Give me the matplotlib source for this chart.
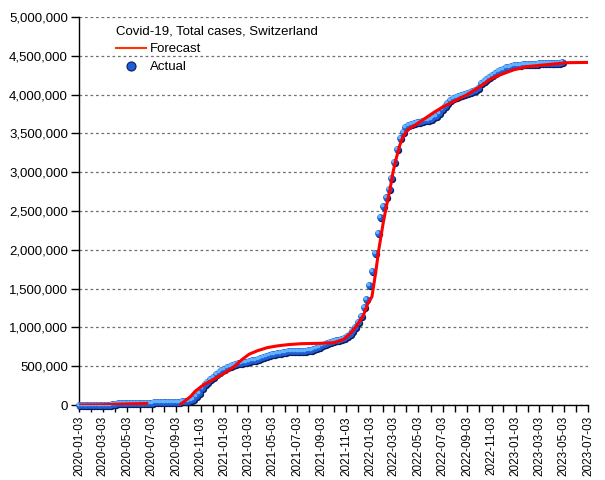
import matplotlib
matplotlib.use("Agg")
import matplotlib.pyplot as plt
import matplotlib.dates as mdates
import matplotlib.transforms as mtransforms
from matplotlib.lines import Line2D
from matplotlib.ticker import FuncFormatter, MultipleLocator
import pandas as pd

plt.rcParams['font.family'] = ['Liberation Sans', 'DejaVu Sans']

# weekly actual totals (thousands), every Friday from 2020-01-03
actual_start = "2020-01-03"
actual_k = [
    0, 0, 0, 0, 0, 0, 0, 0, 0,
    0.2, 1.1, 5.6, 12.9, 19, 24, 27, 28.5,
    29.6, 30.2, 30.5, 30.7, 30.8, 30.9, 31.0, 31.2, 31.5,
    32, 33, 34, 34.5, 35, 36, 38, 39.5, 41,
    43, 45, 48, 51, 53, 60, 75, 110, 160,
    215, 265, 300, 335, 365, 395, 425, 450,
    470, 490, 505, 518, 528, 536, 544, 551, 558,
    566, 574, 584, 596, 608, 618, 630, 641, 652,
    662, 670, 676, 682, 687, 691, 694, 696,
    697, 698, 700, 702, 705, 710, 720, 735, 752,
    770, 790, 805, 816, 826, 835, 843, 852, 865,
    885, 915, 955, 1010, 1075, 1147, 1259, 1362, 1542,
    1727, 1959, 2213, 2419, 2564, 2684, 2787, 2929,
    3127, 3303, 3437, 3522, 3579, 3605, 3625, 3638, 3645,
    3652, 3660, 3668, 3676, 3688, 3705, 3730, 3765,
    3810, 3855, 3895, 3925, 3950, 3970, 3985, 4000, 4012,
    4024, 4035, 4048, 4065, 4090, 4150, 4180, 4205, 4230,
    4255, 4280, 4300, 4318, 4335, 4350, 4362, 4372, 4380,
    4384, 4387, 4389, 4391, 4393, 4395, 4397, 4399,
    4402, 4405, 4407, 4409, 4410, 4411, 4412, 4413, 4414,
]

# forecast, first wave segment
fc1_dates = ["2020-01-03", "2020-03-01", "2020-04-15", "2020-06-21"]
fc1_k = [0, 3, 12, 20]

# forecast, main segment
fc2_dates = ["2020-09-12", "2020-10-09", "2020-10-21", "2020-11-11", "2020-12-06",
             "2020-12-31", "2021-01-26", "2021-02-16", "2021-03-05", "2021-03-26",
             "2021-04-20", "2021-05-15", "2021-06-09", "2021-07-13", "2021-08-31",
             "2021-10-03", "2021-10-28", "2021-11-14", "2021-12-01", "2021-12-17",
             "2021-12-27", "2022-01-07", "2022-01-16", "2022-01-24", "2022-02-04",
             "2022-02-12", "2022-02-21", "2022-03-01", "2022-03-10", "2022-03-18",
             "2022-03-26", "2022-04-06", "2022-05-05", "2022-06-12", "2022-07-05",
             "2022-07-30", "2022-09-01", "2022-10-05", "2022-10-30", "2022-11-24",
             "2022-12-27", "2023-01-30", "2023-03-12", "2023-05-11", "2023-07-03"]
fc2_k = [0, 110, 180, 262, 331,
         405, 494, 590, 655, 700,
         740, 762, 777, 790, 795,
         803, 847, 924, 1031, 1160,
         1300, 1396, 1697, 1997, 2341,
         2556, 2771, 3007, 3200, 3351,
         3458, 3544, 3640, 3773, 3844,
         3909, 3995, 4102, 4196, 4253,
         4317, 4360, 4381, 4411, 4415]

actual_dates = pd.date_range(actual_start, periods=len(actual_k), freq="7D")
actual = [v * 1000 for v in actual_k]
fc1 = [v * 1000 for v in fc1_k]
fc2 = [v * 1000 for v in fc2_k]

fig = plt.figure(figsize=(6.05, 4.8), dpi=100)
ax = fig.add_axes([79 / 605, 75 / 480, 509 / 605, 388 / 480])

# sphere-like dots: dark shadow, blue body, light highlight
shadow = mtransforms.offset_copy(ax.transData, fig=fig, x=1, y=-1, units="dots")
light = mtransforms.offset_copy(ax.transData, fig=fig, x=-1, y=1, units="dots")
ax.scatter(actual_dates, actual, s=28, color="#0b1a5c", lw=0, transform=shadow, zorder=3, clip_on=False)
ax.scatter(actual_dates, actual, s=24, color="#1f5fd6", lw=0, zorder=4, clip_on=False)
ax.scatter(actual_dates, actual, s=7, color="#63b4ff", lw=0, transform=light, zorder=5, clip_on=False)

ax.plot(pd.to_datetime(fc1_dates), fc1, color="#ff0000", lw=2.2, zorder=6)
ax.plot(pd.to_datetime(fc2_dates), fc2, color="#ff0000", lw=2.2, zorder=6)

ax.set_xlim(pd.Timestamp("2020-01-03"), pd.Timestamp("2023-07-03"))
ax.set_ylim(0, 5000000)

ax.xaxis.set_major_locator(mdates.MonthLocator(bymonth=[1, 3, 5, 7, 9, 11], bymonthday=3))
ax.xaxis.set_minor_locator(mdates.MonthLocator(bymonth=[2, 4, 6, 8, 10, 12], bymonthday=3))
ax.xaxis.set_major_formatter(mdates.DateFormatter("%Y-%m-%d"))
ax.yaxis.set_major_locator(MultipleLocator(500000))
ax.yaxis.set_major_formatter(FuncFormatter(lambda v, p: f"{int(v):,}"))

for lab in ax.get_xticklabels():
    lab.set_rotation(90)
ax.tick_params(axis="x", which="both", length=5, width=1, labelsize=8.5, pad=3)
ax.tick_params(axis="y", length=6, width=1, labelsize=9.5, pad=2)

ax.spines["top"].set_visible(False)
ax.spines["right"].set_visible(False)
ax.spines["left"].set_linewidth(1)
ax.spines["bottom"].set_linewidth(1)

ax.yaxis.grid(True, color="#707070", lw=0.9, linestyle=(0, (2.2, 2.2)))
ax.set_axisbelow(True)

handles = [Line2D([], [], color="#ff3300", lw=1.5),
           Line2D([], [], ls="none", marker="o", ms=6.5, mfc="#1f5fd6", mec="#0b1a5c", mew=0.8)]
leg = ax.legend(handles, ["Forecast", "Actual"], title="Covid-19, Total cases, Switzerland",
                loc="upper left", bbox_to_anchor=(0.055, 1.0), frameon=False,
                fontsize=9.5, title_fontsize=9.5, handlelength=2.3, handletextpad=0.3,
                labelspacing=0.42, borderaxespad=0.25, alignment="left")

fig.savefig("out.png", dpi=100)
